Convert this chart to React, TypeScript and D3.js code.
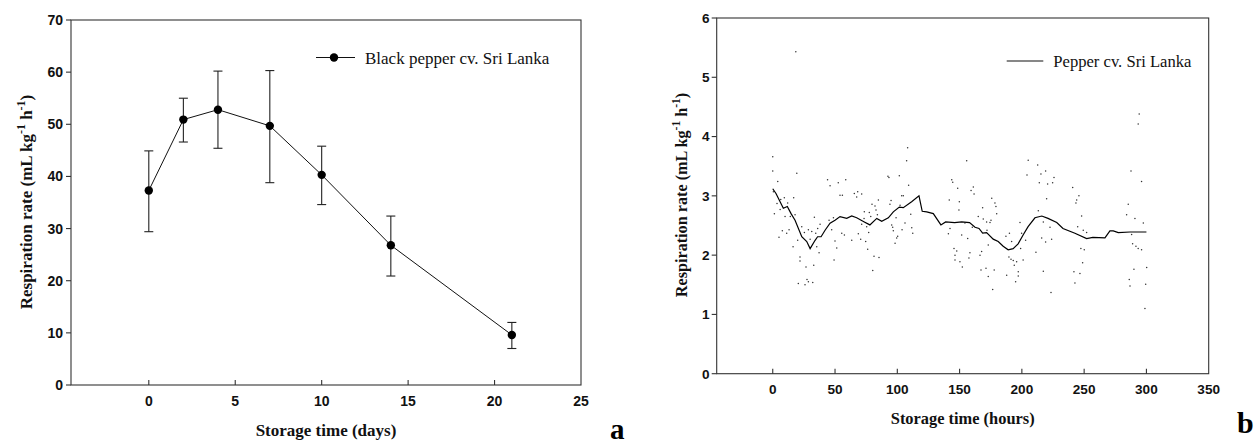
import React from 'react';
import * as d3 from 'd3';

// ---------- Panel a data ----------
const daysA = [0, 2, 4, 7, 10, 14, 21];
const rateA = [37.3, 50.9, 52.8, 49.7, 40.3, 26.8, 9.6];
const upperA = [44.9, 55.0, 60.2, 60.3, 45.8, 32.4, 12.0];
const lowerA = [29.4, 46.6, 45.4, 38.8, 34.6, 20.9, 7.0];
const xTicksA = [0, 5, 10, 15, 20, 25];
const yTicksA = [0, 10, 20, 30, 40, 50, 60, 70];

// ---------- Panel b data ----------
const hoursLine = [0, 2.6, 8.5, 11.7, 14.7, 17.9, 23.3, 27.3, 30, 34, 36, 38.8, 42, 46, 50, 54, 59.4, 63.4, 67.4, 73.5, 78, 83.5, 87.5, 92.8, 96.8, 101.6, 104.8, 111.5, 117.4, 120, 123.6, 128.9, 135, 138.8, 146, 151.7, 158, 162.4, 165.6, 168.5, 171.7, 177, 181, 185, 189, 193, 197, 201, 205, 210.5, 216, 221, 228, 233, 242.6, 252, 257, 266.7, 270.7, 273.4, 277.4, 286.8, 300];
const rateLine = [3.12, 3.04, 2.79, 2.82, 2.70, 2.59, 2.31, 2.23, 2.11, 2.25, 2.31, 2.31, 2.42, 2.54, 2.59, 2.65, 2.62, 2.66, 2.63, 2.56, 2.51, 2.62, 2.57, 2.63, 2.73, 2.81, 2.80, 2.90, 3.00, 2.74, 2.73, 2.70, 2.51, 2.56, 2.55, 2.56, 2.55, 2.47, 2.45, 2.37, 2.38, 2.27, 2.23, 2.15, 2.09, 2.11, 2.19, 2.34, 2.48, 2.63, 2.66, 2.62, 2.55, 2.45, 2.37, 2.28, 2.30, 2.29, 2.41, 2.41, 2.38, 2.39, 2.39];

const hoursDots = [18.5, 0, 0, 4, 19.3, 0.5, 6.4, 9.3, 12, 16.8, 3.4, 1.3, 5.9, 9.9, 14.1, 17.9, 7.7, 11.2, 13.1, 5, 20, 23.3, 25.4, 28.6, 31.3, 30, 33.4, 34.5, 36.1, 38, 16.3, 21.9, 21.9, 26.7, 32.9, 35.3, 37.2, 27.5, 28.6, 20.5, 25.9, 32.1, 44, 46, 52.6, 58.6, 54, 55.9, 65.5, 68.2, 71.4, 67.4, 73.5, 45.2, 48.7, 47.3, 55.4, 57.5, 50, 51.4, 63.4, 68.7, 70.6, 49.2,
  108.3, 107.5, 92.5, 93.3, 101.6, 109.1, 103.5, 104.8, 84.8, 95, 94.1, 79.7, 82.1, 102.2, 82.9, 77.5, 78.7, 84, 73.3, 110.8, 99, 71.4, 75.4, 95.5, 96.3, 106.2, 111.6, 103.8, 96.8, 77, 112.4, 100.3, 99.5, 74.6, 98.2, 76.2, 81.3, 85.3, 80.3, 143.7, 144.5, 148.5, 149.8, 141.7, 149.5, 142.3, 141, 145.5, 147.7, 146.3, 146.3,
  155.7, 161, 159.2, 161.6, 175.8, 178.4, 179.2, 179.8, 168.5, 165, 169, 171.7, 175.2, 174.4, 154.3, 160.2, 172, 151.7, 156.5, 173, 190, 187.2, 198.5, 199.8, 203, 191.8, 199, 158.3, 167.7, 166.4, 157.5, 150.3, 152.2, 189.6, 191.3, 193.1, 195.8, 193.9, 201, 167.2, 171.2, 177.8, 173, 187.8, 197.1, 197.1, 195, 176.6, 205.1, 212.7, 219.1, 204.1, 215.3, 225.8, 224.7, 214, 220.7, 219.9, 213.2, 217.2, 222.6, 215.9, 219.1, 223.9, 211.3, 217.2, 223.4,
  294.2, 293.4, 240.8, 245.8, 244, 243.4, 287.6, 296.1, 285.4, 284.1, 290.8, 297.5, 248, 244.8, 249.3, 252, 288.1, 288.9, 291.6, 293.4, 296.1, 247.4, 250.1, 248.8, 241.8, 246.6, 242.6, 290, 300.2, 286.2, 286.8, 299.4, 298.8];
const rateDots = [5.43, 3.66, 3.42, 3.24, 3.38, 3.07, 2.94, 2.97, 2.88, 2.97, 2.87, 2.70, 2.77, 2.65, 2.65, 2.68, 2.41, 2.37, 2.43, 2.30, 2.25, 2.48, 2.38, 2.43, 2.40, 2.27, 2.64, 2.37, 2.45, 2.52, 2.14, 1.97, 1.90, 1.80, 1.83, 2.14, 2.04, 1.59, 1.55, 1.52, 1.50, 1.54, 3.27, 3.17, 3.22, 3.27, 3.01, 3.01, 3.04, 3.07, 3.03, 2.98, 2.73, 2.59, 2.63, 2.43, 2.37, 2.34, 2.24, 2.12, 2.25, 2.36, 2.27, 1.92,
  3.81, 3.59, 3.33, 3.31, 3.34, 3.18, 3.00, 3.00, 2.93, 2.92, 2.86, 2.86, 2.83, 2.84, 2.76, 2.72, 2.65, 2.68, 2.62, 2.69, 2.63, 2.52, 2.48, 2.51, 2.47, 2.54, 2.46, 2.43, 2.41, 2.38, 2.37, 2.32, 2.29, 2.23, 2.20, 2.10, 1.98, 1.96, 1.74, 3.27, 3.23, 3.13, 2.90, 2.93, 2.76, 2.45, 2.36, 2.11, 2.07, 2.00, 1.92,
  3.59, 3.15, 3.09, 3.03, 2.96, 2.88, 2.82, 2.70, 2.80, 2.65, 2.61, 2.56, 2.59, 2.55, 2.54, 2.47, 2.42, 2.34, 2.28, 2.17, 2.37, 2.32, 2.55, 2.37, 2.25, 2.23, 2.11, 2.04, 2.06, 2.00, 1.95, 1.89, 1.80, 1.97, 1.93, 1.91, 1.89, 1.83, 1.92, 1.75, 1.78, 1.75, 1.64, 1.66, 1.72, 1.65, 1.55, 1.42, 3.60, 3.52, 3.42, 3.35, 3.37, 3.31, 3.22, 3.22, 3.20, 2.95, 2.75, 2.56, 2.47, 2.29, 2.22, 2.27, 2.05, 1.73, 1.37,
  4.38, 4.21, 3.14, 3.00, 2.93, 2.88, 3.42, 3.24, 2.86, 2.68, 2.62, 2.54, 2.66, 2.48, 2.42, 2.38, 2.35, 2.19, 2.15, 2.11, 2.09, 2.11, 2.09, 1.87, 1.72, 1.69, 1.53, 1.76, 1.79, 1.59, 1.48, 1.51, 1.10];
const xTicksB = [0, 50, 100, 150, 200, 250, 300, 350];
const yTicksB = [0, 1, 2, 3, 4, 5, 6];

const SANS = '"Liberation Sans", Arial, sans-serif';
const SERIF = '"Liberation Serif", "Times New Roman", serif';
const AXIS = '#333';

type Frame = { left: number; right: number; top: number; bottom: number };

function Axes({ fr, x, y, xTicks, yTicks, tickFont, xLabelY, yLabelX }: any) {
  return (
    <g>
      <rect x={fr.left} y={fr.top} width={fr.right - fr.left} height={fr.bottom - fr.top} fill="none" stroke={AXIS} strokeWidth={1.1} />
      {yTicks.map((t: number) => (
        <g key={'y' + t}>
          <line x1={fr.left - 5} x2={fr.left} y1={y(t)} y2={y(t)} stroke={AXIS} strokeWidth={1.1} />
          <text x={yLabelX} y={y(t)} dy="0.36em" textAnchor="end" fontFamily={SANS} fontWeight="bold" fontSize={tickFont} fill="#111">{t}</text>
        </g>
      ))}
      {xTicks.map((t: number) => (
        <g key={'x' + t}>
          {x(t) < fr.right - 1 && <line x1={x(t)} x2={x(t)} y1={fr.bottom} y2={fr.bottom - 5} stroke={AXIS} strokeWidth={1.1} />}
          <text x={x(t)} y={xLabelY} textAnchor="middle" fontFamily={SANS} fontWeight="bold" fontSize={tickFont} fill="#111">{t}</text>
        </g>
      ))}
    </g>
  );
}

function YTitle({ cx, cy, size, sup }: { cx: number; cy: number; size: number; sup: number }) {
  const d = size * 0.42;
  return (
    <text transform={`translate(${cx},${cy}) rotate(-90)`} textAnchor="middle" fontFamily={SERIF} fontWeight="bold" fontSize={size} fill="#111">
      <tspan>Respiration rate (mL kg</tspan>
      <tspan dy={-d} fontSize={sup}>-1</tspan>
      <tspan dy={d}> h</tspan>
      <tspan dy={-d} fontSize={sup}>-1</tspan>
      <tspan dy={d}>)</tspan>
    </text>
  );
}

export default function App() {
  // Panel a
  const frA: Frame = { left: 71, right: 581, top: 20, bottom: 385 };
  const xA = d3.scaleLinear().domain([-4.5, 25]).range([frA.left, frA.right]);
  const yA = d3.scaleLinear().domain([0, 70]).range([frA.bottom, frA.top]);
  const lineA = d3.line<number>().x((_, i) => xA(daysA[i])).y((v) => yA(v));

  // Panel b
  const frB: Frame = { left: 716.7, right: 1208.7, top: 18, bottom: 373.7 };
  const xB = d3.scaleLinear().domain([-45, 350]).range([frB.left, frB.right]);
  const yB = d3.scaleLinear().domain([0, 6]).range([frB.bottom, frB.top]);
  const lineB = d3.line<number>().x((_, i) => xB(hoursLine[i])).y((v) => yB(v));

  return (
    <svg width={1260} height={446} style={{ position: 'absolute', left: 0, top: 0, display: 'block', background: '#fff' }}>
      <rect width={1260} height={446} fill="#fff" />

      {/* ---- Panel a ---- */}
      <Axes fr={frA} x={xA} y={yA} xTicks={xTicksA} yTicks={yTicksA} tickFont={14} xLabelY={406} yLabelX={63} />
      <path d={lineA(rateA) || ''} fill="none" stroke="#111" strokeWidth={1} />
      {daysA.map((d, i) => (
        <g key={'eb' + i} stroke="#222" strokeWidth={1.1}>
          <line x1={xA(d)} x2={xA(d)} y1={yA(upperA[i])} y2={yA(lowerA[i])} />
          <line x1={xA(d) - 4.5} x2={xA(d) + 4.5} y1={yA(upperA[i])} y2={yA(upperA[i])} />
          <line x1={xA(d) - 4.5} x2={xA(d) + 4.5} y1={yA(lowerA[i])} y2={yA(lowerA[i])} />
        </g>
      ))}
      {daysA.map((d, i) => (
        <circle key={'pt' + i} cx={xA(d)} cy={yA(rateA[i])} r={4.2} fill="#000" />
      ))}
      {/* legend a */}
      <line x1={316} x2={355} y1={57.5} y2={57.5} stroke="#111" strokeWidth={1} />
      <circle cx={334} cy={57.5} r={4.2} fill="#000" />
      <text x={365} y={63.5} fontFamily={SERIF} fontSize={17} fill="#111">Black pepper cv. Sri Lanka</text>
      <YTitle cx={32} cy={202} size={17} sup={12} />
      <text x={(frA.left + frA.right) / 2} y={436} textAnchor="middle" fontFamily={SERIF} fontWeight="bold" fontSize={17} fill="#111">Storage time (days)</text>
      <text x={610} y={439} fontFamily={SERIF} fontWeight="bold" fontSize={29} fill="#000">a</text>

      {/* ---- Panel b ---- */}
      <Axes fr={frB} x={xB} y={yB} xTicks={xTicksB} yTicks={yTicksB} tickFont={13.6} xLabelY={394} yLabelX={709.5} />
      {hoursDots.map((h, i) => (
        <circle key={'d' + i} cx={xB(h)} cy={yB(rateDots[i])} r={0.75} fill="#333" />
      ))}
      <path d={lineB(rateLine) || ''} fill="none" stroke="#000" strokeWidth={1.2} />
      {/* legend b */}
      <line x1={1006.7} x2={1043.3} y1={61} y2={61} stroke="#111" strokeWidth={1.1} />
      <text x={1053.3} y={66.5} fontFamily={SERIF} fontSize={16.6} fill="#111">Pepper cv. Sri Lanka</text>
      <YTitle cx={686.5} cy={195} size={16.2} sup={11.5} />
      <text x={(frB.left + frB.right) / 2} y={424} textAnchor="middle" fontFamily={SERIF} fontWeight="bold" fontSize={16.4} fill="#111">Storage time (hours)</text>
      <text x={1237} y={433} fontFamily={SERIF} fontWeight="bold" fontSize={30} fill="#000">b</text>
    </svg>
  );
}
